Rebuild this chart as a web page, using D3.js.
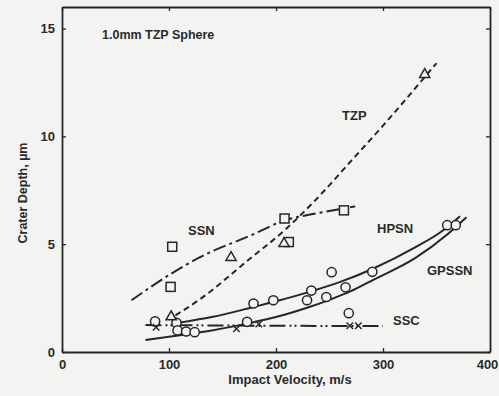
<!DOCTYPE html>
<html>
<head>
<meta charset="utf-8">
<script src="https://cdn.jsdelivr.net/npm/d3@7"></script>
<style>
  body { margin: 0; background: #f3f3f1; }
  svg { display: block; }
  text { font-family: "Liberation Sans", Arial, sans-serif; font-weight: bold; fill: #2a2a2a; }
</style>
</head>
<body>
<div id="chart"></div>
<script>
// values (velocity m/s, depth um)
const circles = [[87,1.42],[107,1.35],[108,1.0],[116,0.95],[124,0.92],[173,1.4],[179,2.25],[197.5,2.4],
  [229,2.4],[233,2.85],[247,2.55],[252,3.7],[265,3.0],[268,1.8],[290,3.72],[360,5.88],[368,5.88]]
const squares = [[103,4.88],[101.5,3.02],[208,6.19],[212,5.1],[263.5,6.57]]
const triangles = [[102,1.63],[158,4.38],[207.5,5.03],[339,12.87]]
const crosses = [[88,1.15],[163,1.08],[184,1.3],[269,1.22],[277,1.22]]

const tzpCurve = [[106,1.7],[129,2.45],[175,4.3],[207,5.6],[237,7.05],[270,8.85],[300,10.5],[350,13.4]]
const ssnCurve = [[65,2.4],[101,3.6],[129,4.4],[176,5.4],[208,6.1],[240,6.45],[274,6.75]]
const hpsnCurve = [[108,1.35],[140,1.62],[180,2.1],[200,2.35],[232,2.8],[260,3.25],[290,3.85],[330,4.85],[355,5.6],[372,6.3]]
const gpssnCurve = [[78,0.56],[110,0.78],[140,1.0],[176,1.35],[200,1.62],[229,2.05],[250,2.42],[270,2.82],[291,3.35],[330,4.35],[360,5.45],[378,6.25]]
const sscCurve = [[78,1.25],[190,1.22],[300,1.2]]

const xTicks = [0,100,200,300,400]
const yTicks = [0,5,10,15]

const W = 499, H = 396
const svg = d3.select("#chart").append("svg").attr("width", W).attr("height", H)
const x = d3.scaleLinear().domain([0,400]).range([62,490])
const y = d3.scaleLinear().domain([0,16]).range([352,7])
const ink = "#262626"

// axes, ticks inward on all four sides
svg.append("g").attr("transform", `translate(0,${y(0)})`)
  .call(d3.axisBottom(x).tickValues(xTicks).tickSizeInner(-4).tickSizeOuter(0).tickPadding(8))
svg.append("g").attr("transform", `translate(${x(0)},0)`)
  .call(d3.axisLeft(y).tickValues(yTicks).tickSizeInner(-4).tickSizeOuter(0).tickPadding(7))
svg.append("g").attr("transform", `translate(0,${y(16)})`)
  .call(d3.axisTop(x).tickValues(xTicks).tickSizeInner(-4).tickSizeOuter(0).tickFormat(""))
svg.append("g").attr("transform", `translate(${x(400)},0)`)
  .call(d3.axisRight(y).tickValues(yTicks).tickSizeInner(-4).tickSizeOuter(0).tickFormat(""))
svg.selectAll(".domain").attr("stroke", ink).attr("stroke-width", 1.8)
svg.selectAll(".tick line").attr("stroke", ink).attr("stroke-width", 1.3)
svg.selectAll(".tick text").attr("font-size", 13).style("font-family", "Liberation Sans, Arial, sans-serif")
  .style("font-weight", "bold").attr("fill", "#2a2a2a")
// keep the last x label inside the window
svg.selectAll(".tick text").filter(d => d === 400).attr("dx", -3)

// axis titles
svg.append("text").attr("x", 290).attr("y", 384).attr("text-anchor", "middle").attr("font-size", 13)
  .text("Impact Velocity, m/s")
svg.append("text").attr("transform", "translate(27,193) rotate(-90)").attr("text-anchor", "middle")
  .attr("font-size", 12.5).text("Crater Depth, \u00b5m")

svg.append("text").attr("x", 102).attr("y", 39).attr("font-size", 12.5).text("1.0mm TZP Sphere")

// curves
const line = d3.line().x(d => x(d[0])).y(d => y(d[1])).curve(d3.curveMonotoneX)
const curves = [
  [tzpCurve, "6,4"],
  [ssnCurve, "13,4,3,4"],
  [hpsnCurve, null],
  [gpssnCurve, null],
  [sscCurve, "16,4,2,3,2,4"]
]
curves.forEach(([pts, dash]) => {
  svg.append("path").attr("d", line(pts)).attr("fill", "none").attr("stroke", ink)
    .attr("stroke-width", 2).attr("stroke-dasharray", dash)
})

// markers
const bg = "#f3f3f1"
svg.selectAll(".circ").data(circles).enter().append("circle")
  .attr("cx", d => x(d[0])).attr("cy", d => y(d[1])).attr("r", 4.6)
  .attr("fill", bg).attr("stroke", ink).attr("stroke-width", 1.5)
svg.selectAll(".sq").data(squares).enter().append("rect")
  .attr("x", d => x(d[0]) - 4.5).attr("y", d => y(d[1]) - 4.5).attr("width", 9).attr("height", 9)
  .attr("fill", bg).attr("stroke", ink).attr("stroke-width", 1.5)
const tri = d3.symbol().type(d3.symbolTriangle).size(45)
svg.selectAll(".tri").data(triangles).enter().append("path")
  .attr("d", tri).attr("transform", d => `translate(${x(d[0])},${y(d[1])})`)
  .attr("fill", bg).attr("stroke", ink).attr("stroke-width", 1.5)
const cross = d3.symbol().type(d3.symbolX).size(30)
svg.selectAll(".x").data(crosses).enter().append("path")
  .attr("d", cross).attr("transform", d => `translate(${x(d[0])},${y(d[1])})`)
  .attr("fill", "none").attr("stroke", ink).attr("stroke-width", 1.4)

// curve labels
const labels = [["TZP", 342, 120], ["SSN", 188, 235], ["HPSN", 377, 233], ["GPSSN", 427, 275], ["SSC", 393, 325]]
labels.forEach(([t, lx, ly]) => svg.append("text").attr("x", lx).attr("y", ly).attr("font-size", 13).text(t))
</script>
</body>
</html>
